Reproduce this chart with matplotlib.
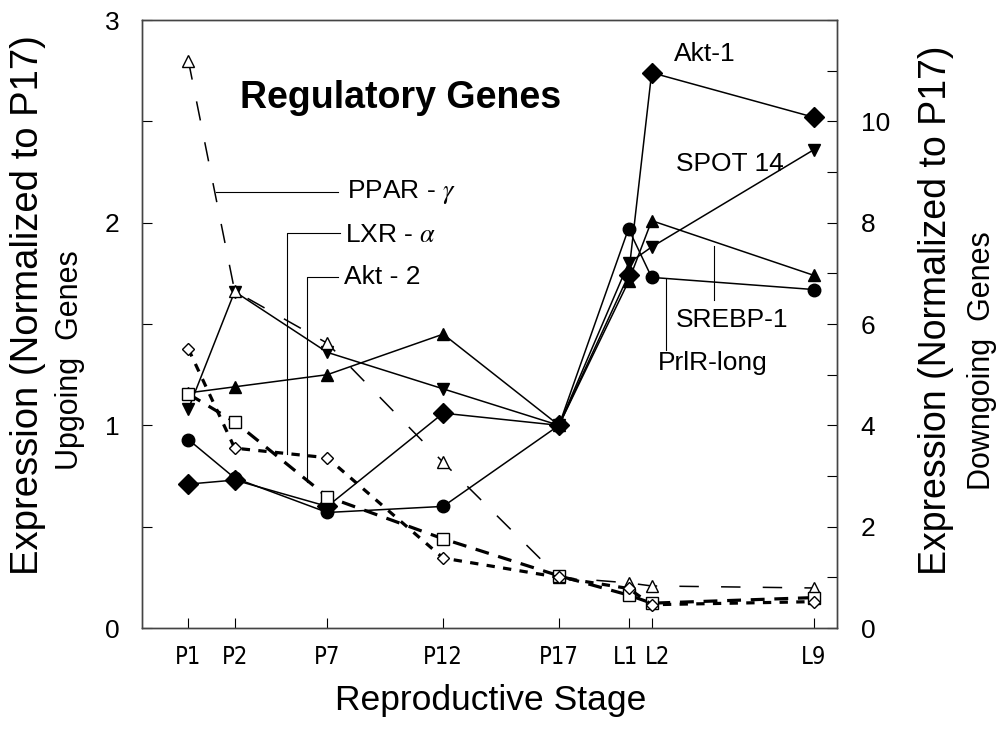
import matplotlib
matplotlib.use('Agg')
import matplotlib.pyplot as plt
from matplotlib.ticker import MultipleLocator
from matplotlib.transforms import ScaledTranslation

plt.rcParams['font.family'] = ['Liberation Sans', 'DejaVu Sans']
plt.rcParams['mathtext.fontset'] = 'stix'
plt.rcParams['lines.scale_dashes'] = False

# reproductive stages and where they sit on the x axis
stages = ['P1', 'P2', 'P7', 'P12', 'P17', 'L1', 'L2', 'L9']
stage_pos = [1, 2, 4, 6.5, 9, 10.5, 11, 14.5]

# upgoing genes (left axis)
akt1 = [0.71, 0.73, 0.60, 1.06, 1.0, 1.74, 2.74, 2.52]
spot14 = [1.08, 1.66, 1.36, 1.18, 1.0, 1.80, 1.88, 2.36]
srebp1 = [1.16, 1.19, 1.25, 1.45, 1.0, 1.71, 2.01, 1.74]
prlr_long = [0.93, 0.74, 0.57, 0.60, 1.0, 1.97, 1.73, 1.67]

# downgoing genes (right axis)
ppar_g = [11.2, 6.65, 5.62, 3.27, 1.0, 0.89, 0.83, 0.79]
lxr_a = [4.62, 4.07, 2.59, 1.76, 1.03, 0.65, 0.49, 0.60]
akt2 = [5.51, 3.55, 3.36, 1.38, 1.0, 0.78, 0.46, 0.52]

fig = plt.figure(figsize=(10.04, 7.3), dpi=100)
ax = fig.add_axes([142 / 1004, 102 / 730, 695 / 1004, 608 / 730])
ax2 = ax.twinx()

solid = dict(color='black', lw=1.1, mfc='black', mec='black')
ax.plot(stage_pos, prlr_long, marker='o', ms=9, **solid)
ax.plot(stage_pos, srebp1, marker='^', ms=8.5, **solid)
ax.plot(stage_pos, spot14, marker='v', ms=8.5, **solid)
ax.plot(stage_pos, akt1, marker='D', ms=10.5, **solid)

ax2.plot(stage_pos, ppar_g, color='black', lw=1.1, dashes=(14, 16),
         marker='^', ms=8, mfc='white', mec='black', mew=1)
ax2.plot(stage_pos, lxr_a, color='black', lw=2.3, dashes=(10, 7),
         marker='s', ms=9, mfc='white', mec='black', mew=1)
ax2.plot(stage_pos, akt2, color='black', lw=2.3, dashes=(6, 6),
         marker='D', ms=6, mfc='white', mec='black', mew=1)

ax.set_xlim(0, 15)
ax.set_ylim(0, 3)
ax2.set_ylim(0, 12)

ax.set_xticks(stage_pos)
ax.set_xticklabels(stages, family='DejaVu Sans', fontstretch='condensed', fontsize=17)
ax.yaxis.set_major_locator(MultipleLocator(1))
ax.yaxis.set_minor_locator(MultipleLocator(0.5))
ax2.yaxis.set_major_locator(MultipleLocator(2))
ax2.yaxis.set_minor_locator(MultipleLocator(1))
ax2.set_yticks([0, 2, 4, 6, 8, 10])

ax.tick_params(axis='x', direction='in', length=7, width=0.8, pad=12, top=False)
ax.tick_params(axis='y', which='both', direction='in', length=7, width=0.8,
               labelsize=19, pad=16, right=False)
ax2.tick_params(axis='y', which='both', direction='in', length=7, width=0.8,
                labelsize=19, pad=17)

# L1 and L2 sit close together, nudge their labels apart a little
xt = ax.xaxis.get_major_ticks()
xt[5].label1.set_transform(xt[5].label1.get_transform()
                           + ScaledTranslation(-3 / 100, 0, fig.dpi_scale_trans))
xt[6].label1.set_transform(xt[6].label1.get_transform()
                           + ScaledTranslation(6 / 100, 0, fig.dpi_scale_trans))

for a in (ax, ax2):
    for s in a.spines.values():
        s.set_color('#444444')
        s.set_linewidth(1.0)

# title and axis labels
fig.text(240 / 1004, (730 - 108) / 730, 'Regulatory Genes', fontsize=27,
         weight='bold', ha='left', va='baseline')
fig.text(0.028, 0.582, 'Expression (Normalized to P17)', rotation=90,
         fontsize=27.5, ha='center', va='center')
fig.text(0.070, 0.507, 'Upgoing  Genes', rotation=90, fontsize=22,
         ha='center', va='center')
fig.text(0.932, 0.575, 'Expression (Normalized to P17)', rotation=90,
         fontsize=27, ha='center', va='center')
fig.text(0.978, 0.506, 'Downgoing  Genes', rotation=90, fontsize=22,
         ha='center', va='center')
fig.text(0.489, 0.041, 'Reproductive Stage', fontsize=25.5,
         ha='center', va='center')

# gene labels with leader lines (left axis data units)
lead = dict(color='black', lw=0.8)
ax.plot([1.60, 4.24], [2.15, 2.15], **lead)
ax.text(4.43, 2.15, r'PPAR - $\gamma$', fontsize=19, va='center')
ax.plot([4.28, 3.14, 3.14], [1.95, 1.95, 0.86], **lead)
ax.text(4.39, 1.94, r'LXR - $\alpha$', fontsize=19, va='center')
ax.plot([4.24, 3.57, 3.57], [1.73, 1.73, 0.72], **lead)
ax.text(4.35, 1.73, 'Akt - 2', fontsize=19, va='center')
ax.text(11.49, 2.83, 'Akt-1', fontsize=19, va='center')
ax.text(11.53, 2.29, 'SPOT 14', fontsize=19, va='center')
ax.plot([12.35, 12.35], [1.885, 1.62], **lead)
ax.text(11.53, 1.52, 'SREBP-1', fontsize=19, va='center')
ax.plot([11.32, 11.32], [1.72, 1.37], **lead)
ax.text(11.14, 1.31, 'PrlR-long', fontsize=19, va='center')

fig.savefig('out.png', dpi=100)
